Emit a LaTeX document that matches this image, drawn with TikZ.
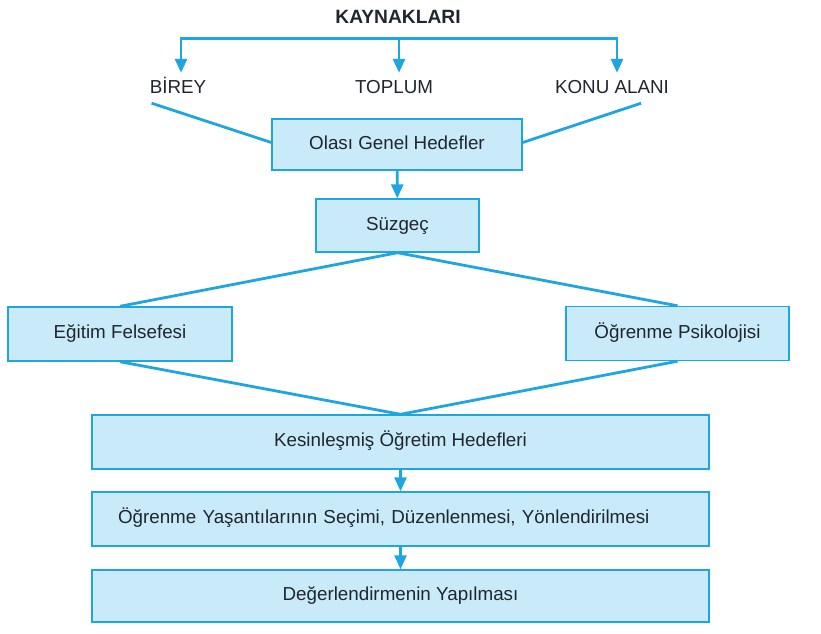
\documentclass[tikz,border=0pt]{standalone}
\usepackage{fontspec}
\setmainfont{Liberation Sans}
\usetikzlibrary{arrows.meta}
\definecolor{kutumavi}{HTML}{C9EAF9}
\definecolor{cizgi}{HTML}{1FA5E0}
\definecolor{yazi}{HTML}{1F262E}
\tikzset{
  etiket/.style={text=yazi,inner sep=0pt,font=\fontsize{18.8}{22}\selectfont,text height=13.5pt,text depth=0pt},
  kutu/.style={etiket,draw=cizgi,fill=kutumavi,line width=1.4pt,minimum height=52pt,text height=12pt,text depth=3pt},
  hat/.style={draw=cizgi,line width=2.8pt},
  ok/.style={hat,-{Triangle[width=12pt,length=14pt]}},
}
\begin{document}
\begin{tikzpicture}[line cap=butt,line join=miter,x=1pt,y=-1pt]
\useasboundingbox (0,0) rectangle (821,633);
% kaynaklar
\node[etiket,font=\fontsize{19.2}{22}\selectfont\bfseries,anchor=base] (kay) at (398,23) {KAYNAKLARI};
\node[etiket,anchor=base] (birey) at (178,93) {BİREY};
\node[etiket,anchor=base] (toplum) at (394,93) {TOPLUM};
\node[etiket,anchor=base] (konu) at (612,93) {KONU ALANI};
\coordinate (kol1) at (181,38.5);
\coordinate (kol2) at (399,38.5);
\coordinate (kol3) at (617,38.5);
\draw[hat] ([xshift=-1.4pt]kol1) -- ([xshift=1.4pt]kol3);
\foreach \k in {kol1,kol2,kol3}
  \draw[ok,shorten >=6.5pt] (\k) -- (\k |- toplum.north);
% kutular
\node[kutu,minimum width=250pt,minimum height=51pt] (olasi) at (397,144.5) {Olası Genel Hedefler};
\node[kutu,minimum width=163pt,minimum height=53pt] (suzgec) at (397.5,225.5) {Süzgeç};
\node[kutu,minimum width=224pt,minimum height=54pt] (egitim) at (120,334) {Eğitim Felsefesi};
\node[kutu,minimum width=223pt,minimum height=54pt] (psik) at (677.5,333.5) {Öğrenme Psikolojisi};
\node[kutu,minimum width=617pt,minimum height=54pt] (kesin) at (400.5,442) {Kesinleşmiş Öğretim Hedefleri};
\node[kutu,text width=565pt,inner xsep=26pt,align=left,minimum height=54pt] (yasanti) at (400.5,519)
  {Öğrenme Yaşantılarının Seçimi, Düzenlenmesi, Yönlendirilmesi};
\node[kutu,minimum width=617pt] (deger) at (400.5,596) {Değerlendirmenin Yapılması};
% baglantilar
\draw[hat] ([xshift=2pt,yshift=-10pt]birey.south west) -- ([yshift=2pt]olasi.west);
\draw[hat] ([xshift=-28pt,yshift=-10pt]konu.south east) -- ([yshift=2pt]olasi.east);
\draw[ok] (olasi) -- (suzgec);
\draw[hat] (egitim.north) -- (suzgec.south) -- (psik.north);
\draw[hat] (egitim.south) -- (kesin.north) -- (psik.south);
\draw[ok] (kesin) -- (yasanti);
\draw[ok] (yasanti) -- (deger);
\end{tikzpicture}
\end{document}
